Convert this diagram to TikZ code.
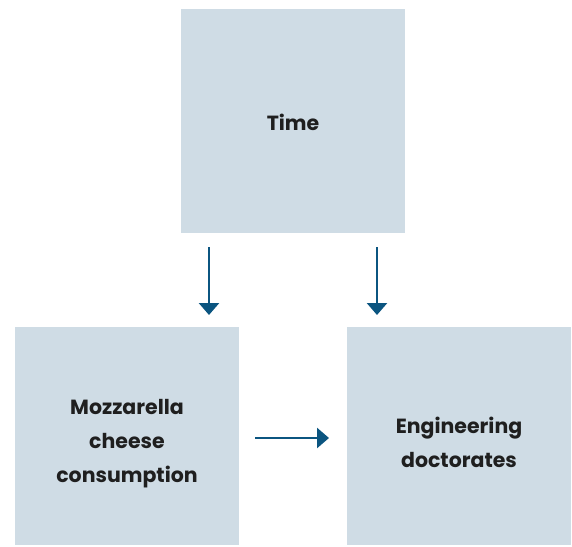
\documentclass[tikz,border=0pt]{standalone}
\usepackage{fontspec}
\setmainfont{Poppins}
\usetikzlibrary{arrows.meta}
\definecolor{boxfill}{HTML}{CFDCE5}
\definecolor{arrowc}{HTML}{0B5580}
\definecolor{txt}{HTML}{1F1F1F}
\tikzset{
  varbox/.style={fill=boxfill, draw=none, minimum width=224pt, minimum height=#1, inner sep=0pt},
  vartext/.style={inner sep=0pt, align=center, font=\fontsize{20.5}{34}\selectfont\bfseries, text=txt},
  conn/.style={draw=arrowc, line width=2.7pt, -{Triangle[length=12pt,width=20pt]}}
}
\begin{document}
\begin{tikzpicture}[x=1pt,y=1pt]
\useasboundingbox (0,0) rectangle (572,-546);
\node[varbox=224pt] (time) at (293,-121) {};
\node[varbox=218pt] (mozz) at (127,-436) {};
\node[varbox=218pt] (eng) at (459,-436) {};
\node[vartext] (timet) at ([yshift=-1pt]time.center) {Time};
\node[vartext] (mozzt) at ([yshift=-8pt]mozz.center) {Mozzarella\\cheese\\consumption};
\node[vartext] (engt) at ([yshift=-6pt]eng.center) {Engineering\\doctorates};
\coordinate (a1s) at (209,-247);
\coordinate (a1e) at (209,-315);
\coordinate (a2s) at (377,-247);
\coordinate (a2e) at (377,-315);
\coordinate (a3s) at (255,-438);
\coordinate (a3e) at (329,-438);
\draw[conn] (a1s) -- (a1e);
\draw[conn] (a2s) -- (a2e);
\draw[conn] (a3s) -- (a3e);
\end{tikzpicture}
\end{document}
